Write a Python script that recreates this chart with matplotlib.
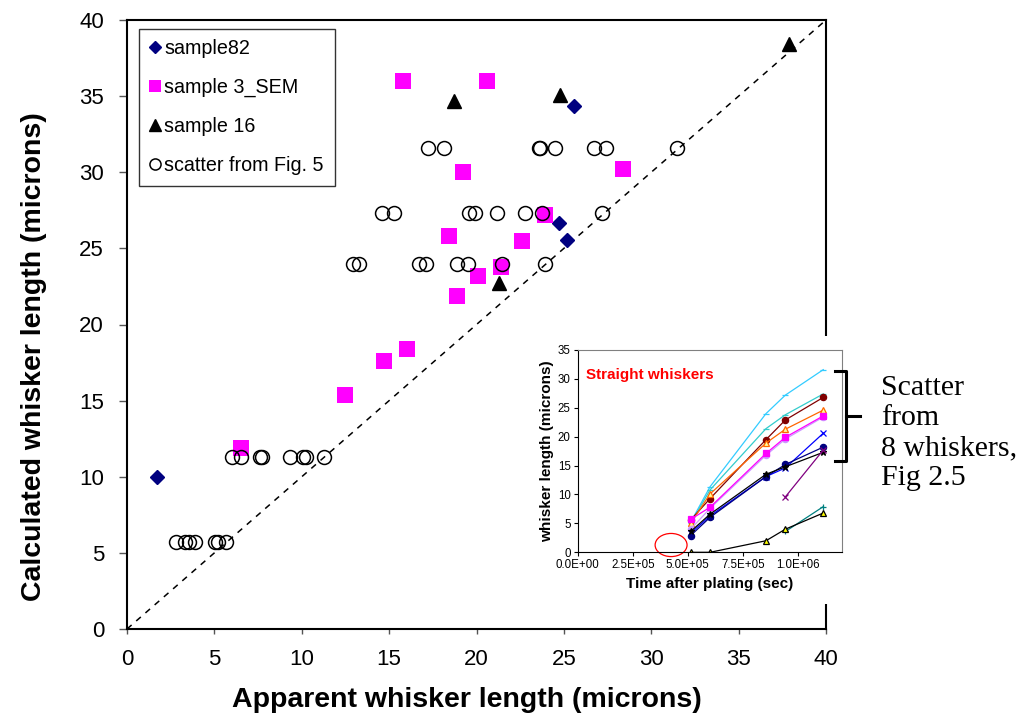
import matplotlib
matplotlib.use("Agg")
import matplotlib.pyplot as plt
from matplotlib.patches import Ellipse
from matplotlib.lines import Line2D
from matplotlib.ticker import FuncFormatter

plt.rcParams['font.family'] = ['Liberation Sans', 'DejaVu Sans']

# ---- main chart data (microns) ----
s82_x = [1.7, 25.6, 24.7, 25.2]
s82_y = [10.0, 34.35, 26.65, 25.55]

sem3_x = [15.8, 20.6, 19.2, 28.4, 18.4, 22.6, 20.1, 18.9, 23.9, 21.4,
          16.0, 14.7, 12.5, 6.5]
sem3_y = [36.0, 36.0, 30.0, 30.2, 25.8, 25.5, 23.2, 21.9, 27.2, 23.8,
          18.4, 17.6, 15.4, 11.9]

s16_x = [18.7, 24.8, 21.3, 37.9]
s16_y = [34.7, 35.1, 22.7, 38.4]

fig5_x = [2.8, 3.3, 3.57, 3.87, 5.05, 5.19, 5.68,
          6.0, 6.5, 7.6, 7.75, 9.3, 10.05, 10.25, 11.3,
          12.95, 13.3, 16.7, 17.1, 18.9, 19.5, 21.45, 23.9,
          14.6, 15.3, 19.55, 19.9, 21.2, 22.8, 23.75, 27.2,
          17.2, 18.15, 23.55, 23.65, 24.5, 26.7, 27.4, 31.45]
fig5_y = [5.73] * 7 + [11.32] * 8 + [23.97] * 8 + [27.3] * 8 + [31.6] * 8

# ---- inset data ----
time_sec = [5.13e5, 6.01e5, 8.55e5, 9.43e5, 1.115e6]
late_time = [9.43e5, 1.115e6]

w_sky = [5.2, 11.35, 24.0, 27.2, 31.6]
w_aqua = [5.0, 10.8, 21.4, 23.8, 27.4]
w_maroon = [5.6, 9.3, 19.5, 22.9, 26.8]
w_orange = [5.0, 10.1, 18.9, 21.3, 24.6]
w_lavender = [4.0, 7.6, 16.8, 19.6, 23.4]
w_magenta = [5.7, 7.8, 17.1, 19.9, 23.6]
w_blue = [3.3, 6.3, 13.1, 14.6, 20.6]
w_navy = [2.9, 6.05, 13.1, 15.2, 18.2]
w_black = [3.6, 6.6, 13.5, 14.8, 17.3]
w_purple = [9.6, 17.7]
w_teal = [3.6, 7.9]
w_yellow = [0.0, 0.0, 2.0, 4.0, 6.8]

W, H = 1019, 722


def fx(px):
    return px / W


def fy(py):
    return 1 - py / H


fig = plt.figure(figsize=(W / 100, H / 100), dpi=100)

ax = fig.add_axes([fx(127), fy(629), 699 / W, 609 / H])

ax.axline(
    (0, 0),
    slope=1,
    color='black',
    linestyle=(0, (4, 4)),
    linewidth=1.1,
    zorder=1
)

ax.plot(s82_x, s82_y, linestyle='none', marker='D', markersize=7.6,
        color='#000080', label='sample82', zorder=3)
ax.plot(sem3_x, sem3_y, linestyle='none', marker='s', markersize=11,
        color='#FF00FF', markeredgewidth=0, label='sample 3_SEM', zorder=3)
ax.plot(s16_x, s16_y, linestyle='none', marker='^', markersize=10.5,
        color='black', label='sample 16', zorder=3)
ax.plot(fig5_x, fig5_y, linestyle='none', marker='o', markersize=10,
        markerfacecolor='none', markeredgecolor='black',
        markeredgewidth=1.1, label='scatter from Fig. 5', zorder=4)

ax.set_xlim(0, 40)
ax.set_ylim(0, 40)
ax.set_xticks(range(0, 41, 5))
ax.set_yticks(range(0, 41, 5))
ax.tick_params(axis='both', labelsize=16, color='#555555', width=1)
ax.tick_params(axis='y', length=5.5, pad=11)
ax.tick_params(axis='x', length=3.5, pad=11)
for s in ax.spines.values():
    s.set_linewidth(1.5)

ax.set_xlabel('Apparent whisker length (microns)', fontsize=20.5,
              fontweight='bold')
ax.set_ylabel('Calculated whisker length (microns)', fontsize=20.5,
              fontweight='bold')
ax.xaxis.set_label_coords(0.486, -0.096)
ax.yaxis.set_label_coords(-0.115, 0.447)

leg = ax.legend(
    loc='upper left',
    bbox_to_anchor=(0.0167, 0.986),
    borderaxespad=0,
    fancybox=False,
    edgecolor='black',
    fontsize=14.2,
    handlelength=0.6,
    handletextpad=0.15,
    labelspacing=1.0,
    borderpad=0.55,
    markerscale=0.8
)
leg.get_frame().set_linewidth(1.0)

# white chart area behind the inset
ca = fig.add_axes([fx(505), fy(604), 340 / W, 268 / H], zorder=2)
ca.set_facecolor('white')
ca.set_xticks([])
ca.set_yticks([])
for s in ca.spines.values():
    s.set_visible(False)

ins = fig.add_axes([fx(577.7), fy(552.3), 264.3 / W, 202.3 / H], zorder=3)

inset_lines = [
    (time_sec, w_sky, '#33CCFF', '_', '#33CCFF'),
    (time_sec, w_aqua, '#33CCCC', '_', '#33CCCC'),
    (time_sec, w_maroon, '#800000', 'o', '#800000'),
    (time_sec, w_orange, '#FF6600', '^', '#FFFF99'),
    (time_sec, w_lavender, '#CC99FF', 'o', '#CC99FF'),
    (time_sec, w_magenta, '#FF00FF', 's', '#FF00FF'),
    (time_sec, w_blue, '#0000FF', 'x', '#0000FF'),
    (time_sec, w_navy, '#000080', 'o', '#000080'),
    (time_sec, w_black, '#000000', '*', '#000000'),
    (late_time, w_purple, '#800080', 'x', '#800080'),
    (late_time, w_teal, '#008080', '+', '#008080'),
    (time_sec, w_yellow, '#000000', '^', '#FFFF00'),
]

for t, v, col, mk, face in inset_lines:
    ins.plot(
        t,
        v,
        color=col,
        linewidth=0.9,
        marker=mk,
        markersize=4.5 if mk != 's' else 4.2,
        markerfacecolor=face,
        markeredgecolor=col,
        markeredgewidth=0.9
    )

ins.set_xlim(0, 1.2e6)
ins.set_ylim(0, 35)
ins.set_xticks([0, 2.5e5, 5.0e5, 7.5e5, 1.0e6])
ins.set_yticks(range(0, 36, 5))
ins.xaxis.set_major_formatter(FuncFormatter(lambda v, p: f"{v:.1E}"))
ins.tick_params(axis='both', labelsize=8.3, length=3, width=0.8, pad=2)
ins.spines['top'].set_color('#808080')
ins.spines['right'].set_color('#808080')
ins.spines['top'].set_linewidth(0.8)
ins.spines['right'].set_linewidth(0.8)
ins.set_xlabel('Time after plating (sec)', fontsize=11, fontweight='bold',
               labelpad=4)
ins.set_ylabel('whisker length (microns)', fontsize=11, fontweight='bold',
               labelpad=3)

ins.text(
    0.38e5,
    30.7,
    'Straight whiskers',
    color='#FF0000',
    fontsize=11,
    fontweight='bold',
    va='center'
)

ins.add_patch(
    Ellipse(
        (4.24e5, 1.26),
        1.45e5,
        4.0,
        fill=False,
        edgecolor='#FF0000',
        linewidth=0.9,
        clip_on=False
    )
)

# bracket and note on the right
fig.add_artist(
    Line2D(
        [fx(835), fx(846), fx(846), fx(835)],
        [fy(371), fy(371), fy(461), fy(461)],
        color='black',
        linewidth=2.2,
        solid_joinstyle='round',
        transform=fig.transFigure,
        zorder=6
    )
)
fig.add_artist(
    Line2D(
        [fx(846), fx(860)],
        [fy(416), fy(416)],
        color='black',
        linewidth=2.2,
        transform=fig.transFigure,
        zorder=6
    )
)

fig.text(
    fx(881),
    fy(375),
    'Scatter\nfrom\n8 whiskers,\nFig 2.5',
    family=['Liberation Serif', 'DejaVu Serif'],
    fontsize=21.5,
    va='top',
    ha='left',
    linespacing=1.2
)

fig.savefig('out.png', dpi=100)
plt.close(fig)
